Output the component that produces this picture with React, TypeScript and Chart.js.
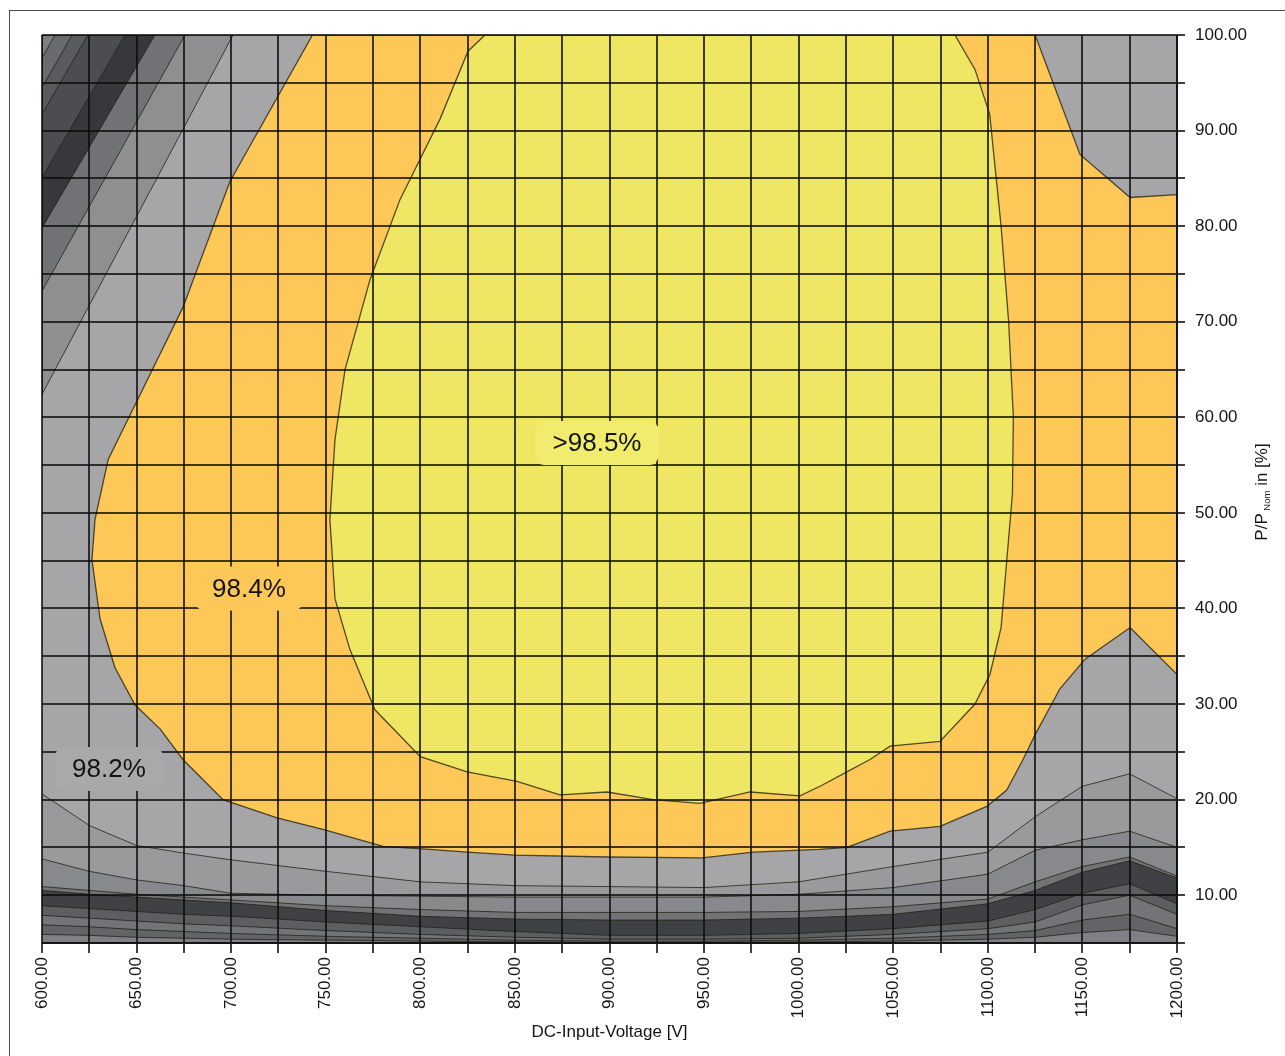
import React, { useEffect, useRef } from 'react';
import { Chart, registerables } from 'chart.js';

Chart.register(...registerables);

// ---- axes ----
const V_MIN = 600;
const V_MAX = 1200;
const V_STEP = 25;
const P_MIN = 5;
const P_MAX = 100;
const P_STEP = 5;

// ---- 98.4 % contour (orange region boundary) ----
const orangeV = [743, 699.4, 674.5, 650.2, 635, 628, 626.4, 630.7, 638.6, 649.2, 662.4, 674.5, 695.7, 724.2, 748.5, 780.3, 805, 825, 850, 899, 949, 976, 1011, 1025.5, 1048.3, 1074.7, 1099.5, 1110, 1118.6, 1125, 1138.1, 1151.4, 1175.2, 1200, 1200, 1175.2, 1148.7, 1125];
const orangeP = [100, 84.7, 71.5, 61.7, 55.6, 49.3, 45.1, 38.9, 33.8, 29.9, 27.4, 24.2, 20.0, 18.1, 16.9, 15.1, 14.8, 14.5, 14.2, 14.0, 13.9, 14.5, 14.8, 15.0, 16.7, 17.2, 19.3, 21.0, 24.2, 26.8, 31.6, 34.7, 38.0, 33.1, 83.3, 83.0, 87.5, 100];

// ---- 98.5 % contour (yellow region boundary) ----
const yellowV = [834.2, 825.2, 810.4, 789.3, 773.4, 760.2, 754.9, 752.2, 754.9, 762.8, 776.0, 800, 824.7, 851.1, 873.8, 898.7, 923.0, 947.8, 974.3, 1000.7, 1011.3, 1025.5, 1037.7, 1048.3, 1074.7, 1093.2, 1101.1, 1107, 1110, 1113, 1113.5, 1111, 1107, 1101, 1093.2, 1082.6];
const yellowP = [100, 98.3, 91.2, 82.8, 74.4, 65.0, 57.7, 49.3, 41.0, 35.7, 29.4, 24.5, 22.9, 21.9, 20.5, 20.8, 20.0, 19.6, 20.8, 20.4, 21.4, 22.9, 24.2, 25.6, 26.1, 30.0, 33.1, 38, 45, 52, 60, 70, 80, 91.7, 96.4, 100];

// ---- low-efficiency contours in the upper-left corner (top crossing V, left crossing P) ----
const cornerTopV = [701, 675.6, 659.7, 643.9, 624.3, 615.9, 606.9];
const cornerLeftP = [62.4, 73.2, 79.8, 85.1, 91.7, 94.5, 97.6];
const cornerColors = ['#8f8f92', '#717276', '#36383c', '#4b4d51', '#5a5b5f', '#6a6b6f', '#7e7f82'];

// ---- low-efficiency contours at low load (P per voltage) ----
const bandV = [600, 625, 650, 675, 700, 750, 800, 850, 900, 950, 1000, 1050, 1100, 1125, 1150, 1175, 1200];
const bandA = [20.6, 17.3, 15.2, 14.4, 13.7, 12.5, 11.4, 11.0, 10.9, 10.8, 11.4, 13.0, 14.5, 18.2, 21.4, 22.7, 20.1];
const bandB = [13.8, 12.5, 11.6, 11.0, 10.2, 10.0, 9.9, 9.8, 9.8, 9.8, 10.1, 10.8, 12.2, 14.7, 15.8, 16.7, 15.0];
const bandC = [10.9, 10.5, 10.1, 9.8, 9.5, 8.9, 8.5, 8.2, 8.2, 8.2, 8.3, 8.8, 9.6, 11.4, 13.0, 14.0, 12.0];
const bandD = [10.5, 10.1, 9.8, 9.5, 9.2, 8.4, 7.8, 7.5, 7.4, 7.4, 7.6, 8.0, 9.1, 10.5, 12.4, 13.6, 11.8];
const bandE = [8.9, 8.6, 8.3, 8.0, 7.8, 7.2, 6.7, 6.2, 5.8, 5.8, 6.0, 6.5, 7.3, 8.5, 10.2, 11.2, 9.1];
const bandF = [7.9, 7.6, 7.3, 7.0, 6.8, 6.3, 5.9, 5.6, 5.4, 5.4, 5.5, 5.9, 6.5, 7.2, 9.0, 10.0, 8.0];
const bandG = [6.9, 6.7, 6.4, 6.2, 6.0, 5.7, 5.5, 5.3, 5.2, 5.2, 5.3, 5.5, 5.9, 6.3, 7.4, 8.0, 6.5];
const bandH = [5.9, 5.8, 5.6, 5.5, 5.4, 5.3, 5.2, 5.1, 5.05, 5.05, 5.1, 5.2, 5.4, 5.6, 6.1, 6.4, 5.7];
const bandCurves = [bandA, bandB, bandC, bandD, bandE, bandF, bandG, bandH];
const bandColors = ['#9a9a9d', '#88898c', '#727377', '#3f4145', '#5c5e61', '#737477', '#636468', '#7f8083'];

// ---- region labels ----
const regionLabels = ['>98.5%', '98.4%', '98.2%'];
const labelV = [893.4, 709.4, 635.4];
const labelP = [57.3, 42.1, 23.2];
const labelBg = ['#f1eb6e', '#fdc858', '#a9a9ab'];

const BASE_GRAY = '#a6a6a8';
const ORANGE = '#fdc858';
const YELLOW = '#efe764';
const CONTOUR_LINE = 'rgba(35,32,20,0.78)';
const GRID = 'rgba(12,12,12,0.78)';
const TEXT = '#141414';
const FONT = '"Liberation Sans", Arial, Helvetica, sans-serif';

function closedPolygon(vs: number[], ps: number[]) {
  const pts = vs.map((v, i) => ({ x: v, y: ps[i] }));
  pts.push({ ...pts[0] });
  return pts;
}

function roundRectPath(ctx: CanvasRenderingContext2D, x: number, y: number, w: number, h: number, r: number) {
  ctx.beginPath();
  ctx.moveTo(x + r, y);
  ctx.lineTo(x + w - r, y);
  ctx.arcTo(x + w, y, x + w, y + r, r);
  ctx.lineTo(x + w, y + h - r);
  ctx.arcTo(x + w, y + h, x + w - r, y + h, r);
  ctx.lineTo(x + r, y + h);
  ctx.arcTo(x, y + h, x, y + h - r, r);
  ctx.lineTo(x, y + r);
  ctx.arcTo(x, y, x + r, y, r);
  ctx.closePath();
}

const overlayPlugin = {
  id: 'overlayTexts',
  afterDraw(chart: any) {
    const { ctx, chartArea } = chart;
    const xs = chart.scales.x;
    const ys = chart.scales.y;
    ctx.save();
    // region labels
    ctx.font = `26px ${FONT}`;
    ctx.textAlign = 'center';
    ctx.textBaseline = 'middle';
    regionLabels.forEach((t, i) => {
      const cx = xs.getPixelForValue(labelV[i]);
      const cy = ys.getPixelForValue(labelP[i]);
      const w = ctx.measureText(t).width + 34;
      const h = 44;
      ctx.fillStyle = labelBg[i];
      roundRectPath(ctx, cx - w / 2, cy - h / 2, w, h, 9);
      ctx.fill();
      ctx.fillStyle = TEXT;
      ctx.fillText(t, cx, cy + 1);
    });
    // right axis title: P/P_Nom in [%], reading bottom to top
    const main = `17px ${FONT}`;
    const sub = `9.5px ${FONT}`;
    const parts: [string, string, number][] = [
      ['P/P', main, 0],
      [' Nom', sub, 5],
      [' in [%]', main, 0],
    ];
    let total = 0;
    parts.forEach(([s, f]) => {
      ctx.font = f;
      total += ctx.measureText(s).width;
    });
    ctx.translate(chartArea.right + 85, (chartArea.top + chartArea.bottom) / 2 + 3);
    ctx.rotate(-Math.PI / 2);
    ctx.textAlign = 'left';
    ctx.textBaseline = 'middle';
    ctx.fillStyle = TEXT;
    let px = -total / 2;
    parts.forEach(([s, f, dy]) => {
      ctx.font = f;
      ctx.fillText(s, px, dy);
      px += ctx.measureText(s).width;
    });
    ctx.restore();
  },
};

export default function App() {
  const ref = useRef<HTMLCanvasElement>(null);

  useEffect(() => {
    if (!ref.current) return;
    const layers: any[] = [];
    // base (98.2 %) region
    layers.push({
      data: closedPolygon([V_MIN, V_MIN, V_MAX, V_MAX], [P_MIN, P_MAX, P_MAX, P_MIN]),
      backgroundColor: BASE_GRAY,
      borderWidth: 0,
      fill: 'shape',
    });
    layers.push({
      data: closedPolygon(orangeV, orangeP),
      backgroundColor: ORANGE,
      borderColor: CONTOUR_LINE,
      borderWidth: 1.3,
      fill: 'shape',
    });
    layers.push({
      data: closedPolygon(yellowV, yellowP),
      backgroundColor: YELLOW,
      borderColor: CONTOUR_LINE,
      borderWidth: 1.3,
      fill: 'shape',
    });
    cornerTopV.forEach((v, k) => {
      layers.push({
        data: closedPolygon([v, V_MIN, V_MIN], [P_MAX, P_MAX, cornerLeftP[k]]),
        backgroundColor: cornerColors[k],
        borderColor: CONTOUR_LINE,
        borderWidth: 1,
        fill: 'shape',
      });
    });
    bandCurves.forEach((curve, k) => {
      layers.push({
        data: bandV.map((v, i) => ({ x: v, y: curve[i] })),
        backgroundColor: bandColors[k],
        borderColor: CONTOUR_LINE,
        borderWidth: 1,
        fill: 'start',
      });
    });
    const datasets = layers.map((d, i) => ({
      ...d,
      order: layers.length - i,
      pointRadius: 0,
      pointHoverRadius: 0,
      tension: 0,
    }));

    const chart = new Chart(ref.current, {
      type: 'line',
      data: { datasets },
      options: {
        responsive: false,
        maintainAspectRatio: false,
        animation: false,
        events: [],
        layout: { padding: { left: 42, top: 35, right: 0, bottom: 0 } },
        plugins: {
          legend: { display: false },
          tooltip: { enabled: false },
        },
        scales: {
          x: {
            type: 'linear',
            position: 'bottom',
            min: V_MIN,
            max: V_MAX,
            z: 1,
            afterFit: (s: any) => {
              s.height = 113;
            },
            ticks: {
              stepSize: V_STEP,
              autoSkip: false,
              minRotation: 90,
              maxRotation: 90,
              padding: 4,
              color: TEXT,
              font: { family: FONT, size: 17 },
              callback: (v: any) => (Number(v) % 50 === 0 ? Number(v).toFixed(2) : ''),
            },
            grid: { z: 1, color: GRID, lineWidth: 2, tickLength: 10, tickColor: GRID },
            border: { z: 1, display: true, color: GRID, width: 2 },
            title: {
              display: true,
              text: 'DC-Input-Voltage [V]',
              color: TEXT,
              font: { family: FONT, size: 17 },
              padding: { top: 0, bottom: 13 },
            },
          },
          y: {
            type: 'linear',
            position: 'right',
            min: P_MIN,
            max: P_MAX,
            z: 1,
            afterFit: (s: any) => {
              s.width = 108;
            },
            ticks: {
              stepSize: P_STEP,
              autoSkip: false,
              padding: 10,
              color: TEXT,
              font: { family: FONT, size: 17 },
              callback: (v: any) => (Number(v) % 10 === 0 ? Number(v).toFixed(2) : ''),
            },
            grid: { z: 1, color: GRID, lineWidth: 2, tickLength: 8, tickColor: GRID },
            border: { z: 1, display: true, color: GRID, width: 2 },
            title: { display: false },
          },
        },
      },
      plugins: [overlayPlugin],
    } as any);
    return () => chart.destroy();
  }, []);

  return (
    <div style={{ position: 'fixed', left: 0, top: 0, width: 1285, height: 1056, overflow: 'hidden', background: '#fff' }}>
      <div
        style={{
          position: 'absolute',
          left: 9,
          top: 10,
          right: -4,
          bottom: -4,
          borderLeft: '1px solid #4a4a4a',
          borderTop: '1px solid #4a4a4a',
        }}
      />
      <canvas ref={ref} width={1285} height={1056} style={{ position: 'absolute', left: 0, top: 0, width: 1285, height: 1056 }} />
    </div>
  );
}
